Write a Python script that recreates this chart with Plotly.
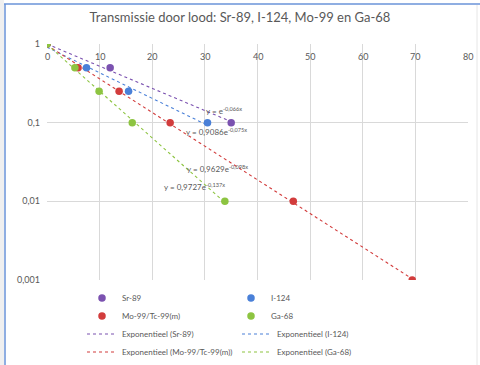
import numpy as np
import plotly.graph_objects as go

# ---- data ----
series_names = ["Sr-89", "I-124", "Mo-99/Tc-99(m)", "Ga-68"]
sr89_x = [0, 12, 35]
sr89_y = [1, 0.5, 0.1]
i124_x = [0, 7.5, 15.5, 30.5]
i124_y = [1, 0.5, 0.25, 0.1]
mo99_x = [0, 5.9, 13.7, 23.4, 46.8, 69.4]
mo99_y = [1, 0.5, 0.25, 0.1, 0.01, 0.001]
ga68_x = [0, 5.3, 9.9, 16.2, 33.8]
ga68_y = [1, 0.5, 0.25, 0.1, 0.01]
trend_names = ["Exponentieel (Sr-89)", "Exponentieel (I-124)",
               "Exponentieel (Mo-99/Tc-99(m))", "Exponentieel (Ga-68)"]
equation_labels = ["y = e<sup>-0,066x</sup>", "y = 0,9086e<sup>-0,075x</sup>",
                   "y = 0,9629e<sup>-0,098x</sup>", "y = 0,9727e<sup>-0,137x</sup>"]
force_intercept = [True, False, False, False]
x_ticks = [0, 10, 20, 30, 40, 50, 60, 70, 80]
x_tick_labels = ["0", "10", "20", "30", "40", "50", "60", "70", "80"]
y_ticks = [1, 0.1, 0.01, 0.001]
y_tick_labels = ["1", "0,1", "0,01", "0,001"]

colors = ["#7b52b0", "#4a80d8", "#d23c3c", "#8dc441"]
grey = "#595959"
font_family = "Lato, 'Open Sans', sans-serif"

xs = [sr89_x, i124_x, mo99_x, ga68_x]
ys = [sr89_y, i124_y, mo99_y, ga68_y]

W, H = 480, 365
L, R, T, B = 47, 12, 44, 85
pw, ph = W - L - R, H - T - B


def px(xp):
    return (xp - L) / pw


def py(yp):
    return (H - B - yp) / ph


# legend rows: marker rows then trendline rows, two entries each
legend_ids = ["legend", "legend2", "legend3", "legend4"]
marker_legend = ["legend", "legend", "legend2", "legend2"]
trend_legend = ["legend3", "legend3", "legend4", "legend4"]
row_y = [298, 316, 334, 352]
row_entrywidth = [104, 104, 110, 110]

fig = go.Figure()

# exponential trendlines fitted to the data
for i in range(4):
    x = np.array(xs[i], float)
    ly = np.log(np.array(ys[i], float))
    if force_intercept[i]:
        b = np.sum(x * ly) / np.sum(x * x)
        a = 0.0
    else:
        b, a = np.polyfit(x, ly, 1)
    xt = np.linspace(0, x.max(), 60)
    yt = np.exp(a + b * xt)
    fig.add_trace(go.Scatter(
        x=xt, y=yt, mode="lines", name=trend_names[i],
        line=dict(color=colors[i], width=1.1, dash="dot"),
        legend=trend_legend[i], legendrank=5 + i, hoverinfo="skip"))

for i in range(4):
    fig.add_trace(go.Scatter(
        x=xs[i], y=ys[i], mode="markers", name=series_names[i],
        marker=dict(color=colors[i], size=7.5, line=dict(width=0)),
        legend=marker_legend[i], legendrank=1 + i))

eq_pos = [(224, 103), (216, 131), (217, 168), (162, 186)]
annotations = []
for (xp, yp), t in zip(eq_pos, equation_labels):
    annotations.append(dict(x=px(xp), y=py(yp), xref="paper", yref="paper",
                            text=t, showarrow=False,
                            font=dict(size=8, color=grey, family=font_family)))
for xv, lab in zip(x_ticks, x_tick_labels):
    annotations.append(dict(x=xv, y=py(57), xref="x", yref="paper",
                            text=lab, showarrow=False, xanchor="center",
                            yanchor="middle",
                            font=dict(size=9, color=grey, family=font_family)))

shapes = [
    dict(type="rect", xref="paper", yref="paper", x0=px(-5), x1=px(W + 5),
         y0=py(0), y1=py(-5), fillcolor="#e6e6e6", line=dict(width=0), layer="below"),
    dict(type="rect", xref="paper", yref="paper", x0=px(-5), x1=px(4),
         y0=py(0), y1=py(H + 5), fillcolor="#f0f0f0", line=dict(width=0), layer="below"),
    dict(type="line", xref="paper", yref="paper", x0=px(4), x1=px(W + 5),
         y0=py(4), y1=py(4), line=dict(color="#6a93d8", width=1.5)),
    dict(type="line", xref="paper", yref="paper", x0=px(5), x1=px(5),
         y0=py(4), y1=py(H + 5), line=dict(color="#6a93d8", width=1.5)),
    dict(type="line", xref="paper", yref="paper", x0=px(477), x1=px(477),
         y0=py(5), y1=py(H + 5), line=dict(color="#e6e6e6", width=1)),
]

legend_layouts = {}
for lid, yy, ew in zip(legend_ids, row_y, row_entrywidth):
    legend_layouts[lid] = dict(
        orientation="h", x=px(82), y=py(yy), xanchor="left", yanchor="middle",
        entrywidth=ew, entrywidthmode="pixels",
        font=dict(size=8, color=grey, family=font_family),
        traceorder="normal", itemwidth=30, bgcolor="rgba(0,0,0,0)")

fig.update_layout(
    width=W, height=H,
    margin=dict(l=L, r=R, t=T, b=B, autoexpand=False),
    paper_bgcolor="white", plot_bgcolor="white",
    separators=", ",
    font=dict(family=font_family, color=grey, size=9),
    title=dict(text="Transmissie door lood: Sr-89, I-124, Mo-99 en Ga-68",
               x=0.5, xref="container", y=1 - 17 / H, yref="container",
               xanchor="center", yanchor="middle",
               font=dict(size=13, color=grey, family=font_family)),
    xaxis=dict(range=[0, 80], tickvals=x_ticks, showticklabels=False,
               showgrid=True, gridcolor="#d9d9d9", gridwidth=1,
               zeroline=False, showline=False, ticks=""),
    yaxis=dict(type="log", range=[-3, 0], tickvals=y_ticks,
               ticktext=y_tick_labels, showgrid=True, gridcolor="#d9d9d9",
               gridwidth=1, zeroline=False, showline=False, ticks="",
               ticklabelstandoff=6,
               tickfont=dict(size=9, color=grey)),
    annotations=annotations,
    shapes=shapes,
    showlegend=True,
    **legend_layouts,
)

fig.write_html("out.html", config={"displayModeBar": False},
               post_script="document.body.style.margin='0px';")
